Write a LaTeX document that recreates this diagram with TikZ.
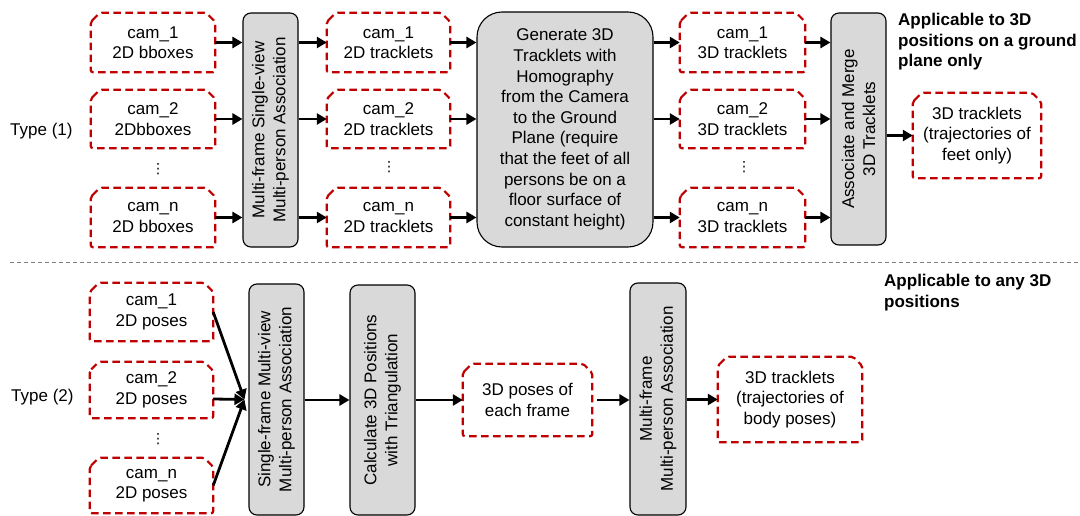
\documentclass[tikz,border=0pt]{standalone}
\usepackage{fontspec}
\setmainfont{Liberation Sans}
\newfontfamily\djv{DejaVu Sans}
\usetikzlibrary{arrows.meta,calc}
\definecolor{dred}{RGB}{192,0,0}
\definecolor{gfill}{RGB}{217,217,217}
\tikzset{
  rbox/.style={draw=none, inner sep=0pt, align=center, font=\fontsize{17}{20.5}\selectfont},
  rdash/.style={draw=dred, line width=2.2pt, dash pattern=on 7.5pt off 4.5pt, rounded corners=2pt},
  gbox/.style={draw=black, line width=1.1pt, fill=gfill, rounded corners=8pt, inner sep=0pt},
  vtext/.style={rotate=90, align=center, font=\fontsize{17}{21}\selectfont},
  btext/.style={anchor=north west, align=left, inner sep=0pt, font=\fontsize{17}{20.5}\selectfont\bfseries},
  ltext/.style={anchor=west, inner sep=0pt, font=\fontsize{17}{20.5}\selectfont},
  arr/.style={line width=2.8pt, -{Triangle[length=10pt,width=11pt]}},
  dotsn/.style={inner sep=0pt, font=\djv\fontsize{14}{14}\selectfont},
  sep/.style={draw=gray, line width=0.8pt, dash pattern=on 4pt off 3pt}
}
\newcommand\snip[1]{\draw[rdash] ([yshift=-9pt]#1.north west) -- ([xshift=9pt]#1.north west) -- ([xshift=-9pt]#1.north east) -- ([yshift=-9pt]#1.north east) -- (#1.south east) -- (#1.south west) -- cycle;}
\begin{document}
\begin{tikzpicture}[x=1pt,y=-1pt]
\useasboundingbox (0,0) rectangle (1080,516);
\clip (0,0) rectangle (1080,516);
% ---------- Type 1 ----------
\node[ltext] (t1) at (10,131) {Type (1)};
\node[rbox, minimum width=124pt, minimum height=59pt] (a1) at (153,42.5) {cam\_1\\2D bboxes};
\node[rbox, minimum width=124pt, minimum height=58pt] (a2) at (153,119) {cam\_2\\2Dbboxes};
\node[rbox, minimum width=124pt, minimum height=59pt] (a3) at (153,217.5) {cam\_n\\2D bboxes};
\node[dotsn] (ad) at (158,169) {⋮};
\snip{a1}\snip{a2}\snip{a3}
\node[gbox, minimum width=55pt, minimum height=234pt] (g1) at (270.5,130) {};
\node[vtext] (g1t) at (g1.center) {Multi-frame Single-view\\Multi-person Association};
\node[rbox, minimum width=123pt, minimum height=59pt] (b1) at (388.5,42.5) {cam\_1\\2D tracklets};
\node[rbox, minimum width=123pt, minimum height=58pt] (b2) at (388.5,119) {cam\_2\\2D tracklets};
\node[rbox, minimum width=123pt, minimum height=59pt] (b3) at (388.5,217.5) {cam\_n\\2D tracklets};
\node[dotsn] (bd) at (389,167) {⋮};
\snip{b1}\snip{b2}\snip{b3}
\node[gbox, rounded corners=25pt, minimum width=176pt, minimum height=235pt, align=center, font=\fontsize{17}{20.6}\selectfont] (g2) at (565,129.5) {Generate 3D\\Tracklets with\\Homography\\from the Camera\\to the Ground\\Plane (require\\that the feet of all\\persons be on a\\floor surface of\\constant height)};
\node[rbox, minimum width=125pt, minimum height=59pt] (c1) at (742.5,42.5) {cam\_1\\3D tracklets};
\node[rbox, minimum width=125pt, minimum height=58pt] (c2) at (742.5,119) {cam\_2\\3D tracklets};
\node[rbox, minimum width=125pt, minimum height=59pt] (c3) at (742.5,217.5) {cam\_n\\3D tracklets};
\node[dotsn] (cd) at (744,167) {⋮};
\snip{c1}\snip{c2}\snip{c3}
\node[gbox, minimum width=55pt, minimum height=232pt] (g3) at (858.5,129) {};
\node[vtext] (g3t) at (g3.center) {Associate and Merge\\3D Tracklets};
\node[rbox, minimum width=128pt, minimum height=85pt] (o1) at (977,135.5) {3D tracklets\\(trajectories of\\feet only)};
\snip{o1}
\node[btext] (n1) at (898,13) {Applicable to 3D\\positions on a ground\\plane only};
\foreach \r in {1,2,3}{
  \draw[arr] (a\r.east) -- (a\r.east -| g1.west);
  \draw[arr] (a\r.east -| g1.east) -- (b\r.west);
  \draw[arr] (b\r.east) -- (b\r.east -| g2.west);
  \draw[arr] (b\r.east -| g2.east) -- (c\r.west);
  \draw[arr] (c\r.east) -- (c\r.east -| g3.west);
}
\draw[arr] (o1.west -| g3.east) -- (o1.west);
% ---------- separator ----------
\coordinate (s0) at (10,262);
\coordinate (s1) at (1080,262);
\draw[sep] (s0) -- (s1);
% ---------- Type 2 ----------
\node[ltext] (t2) at (11,397) {Type (2)};
\node[rbox, minimum width=123pt, minimum height=58pt] (p1) at (151.5,312) {cam\_1\\2D poses};
\node[rbox, minimum width=123pt, minimum height=56pt] (p2) at (151.5,390) {cam\_2\\2D poses};
\node[rbox, minimum width=123pt, minimum height=55pt] (p3) at (151.5,485.5) {cam\_n\\2D poses};
\node[dotsn] (pd) at (158,439) {⋮};
\snip{p1}\snip{p2}\snip{p3}
\node[gbox, minimum width=55pt, minimum height=231pt] (s1b) at (276.5,399.5) {};
\node[vtext] (s1t) at (s1b.center) {Single-frame Multi-view\\Multi-person Association};
\coordinate (m) at ($(s1b.west)+(-4,0)$);
\draw[arr] (p1.east) -- (m);
\draw[arr] ([yshift=-9pt]p2.east) -- (m);
\draw[arr] (p3.east) -- (m);
\node[gbox, minimum width=65pt, minimum height=230pt] (s2b) at (382.5,400) {};
\node[vtext] (s2t) at (s2b.center) {Calculate 3D Positions\\with Triangulation};
\node[rbox, minimum width=129pt, minimum height=72pt] (q1) at (527.5,400) {3D poses of\\each frame};
\snip{q1}
\node[gbox, minimum width=56pt, minimum height=232pt] (s3b) at (658,399) {};
\node[vtext] (s3t) at (s3b.center) {Multi-frame\\Multi-person Association};
\node[rbox, minimum width=144pt, minimum height=85pt] (o2) at (790,399.5) {3D tracklets\\(trajectories of\\body poses)};
\snip{o2}
\node[btext] (n2) at (884,274) {Applicable to any 3D\\positions};
\draw[arr] (s1b.east |- s2b.west) -- (s2b.west);
\draw[arr] (s2b.east |- q1.west) -- (q1.west);
\draw[arr] ([xshift=5pt]q1.east) -- (q1.east -| s3b.west);
\draw[arr] (s3b.east |- o2.west) -- (o2.west);
\end{tikzpicture}
\end{document}
